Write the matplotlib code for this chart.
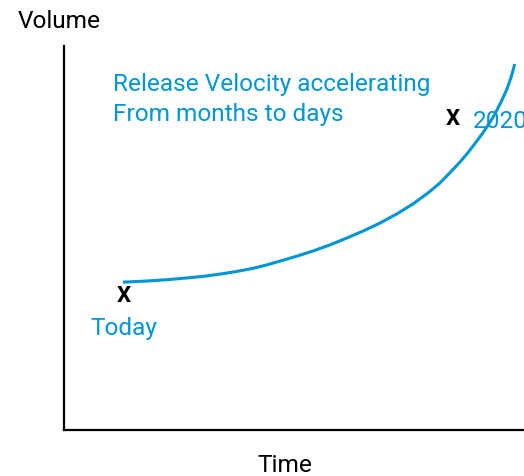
import numpy as np
from matplotlib import pyplot as plt

# curve (time, volume) on a 0-10 scale
time = [1.28, 1.65, 1.94, 2.30, 2.67, 3.02, 3.39, 3.76, 4.11, 4.41, 4.70,
        5.07, 5.41, 5.78, 6.15, 6.50, 6.87, 7.24, 7.59, 7.91, 8.17, 8.39,
        8.61, 8.78, 8.94, 9.09, 9.22, 9.33, 9.41, 9.52, 9.63, 9.72, 9.80]
volume = [3.85, 3.87, 3.89, 3.92, 3.96, 4.00, 4.06, 4.13, 4.21, 4.30, 4.40,
          4.53, 4.66, 4.82, 5.00, 5.18, 5.39, 5.63, 5.89, 6.17, 6.43, 6.70,
          6.98, 7.22, 7.47, 7.71, 7.94, 8.15, 8.33, 8.59, 8.88, 9.19, 9.53]

# marked points and their labels
mark_x = [1.29, 8.46]
mark_y = [3.49, 8.11]
mark_labels = ["Today", "2020"]
label_pos = [(0.565, 2.474), (8.89, 7.865)]

note_lines = ["Release Velocity accelerating", "From months to days"]
note_pos = [(1.07, 8.828), (1.07, 8.047)]

blue = "#0096D6"
fs = 17.6
plt.rcParams['font.family'] = ['Roboto', 'DejaVu Sans']

fig = plt.figure(figsize=(5.24, 4.76), dpi=100)
ax = fig.add_axes([64/524, 46/476, 460/524, 384/476])
ax.set_xlim(0, 10)
ax.set_ylim(0, 10)
ax.spines['top'].set_visible(False)
ax.spines['right'].set_visible(False)
ax.spines['left'].set_linewidth(1.6)
ax.spines['bottom'].set_linewidth(1.6)
ax.set_xticks([])
ax.set_yticks([])

ax.plot(time, volume, color=blue, lw=2.2, solid_capstyle='butt', solid_joinstyle='round')

for x, y in zip(mark_x, mark_y):
    ax.text(x, y, "X", fontsize=16, fontweight='bold', ha='center', va='center', color='black')

for (x, y), lab in zip(label_pos, mark_labels):
    ax.text(x, y, lab, fontsize=fs, color=blue, ha='left', va='baseline', clip_on=False)

for (x, y), line in zip(note_pos, note_lines):
    ax.text(x, y, line, fontsize=fs, color=blue, ha='left', va='baseline')

fig.text(18/524, 1 - 28/476, "Volume", fontsize=fs, ha='left', va='baseline')
fig.text(285/524, 1 - 472/476, "Time", fontsize=fs, ha='center', va='baseline')

plt.savefig('out.png', dpi=100)
